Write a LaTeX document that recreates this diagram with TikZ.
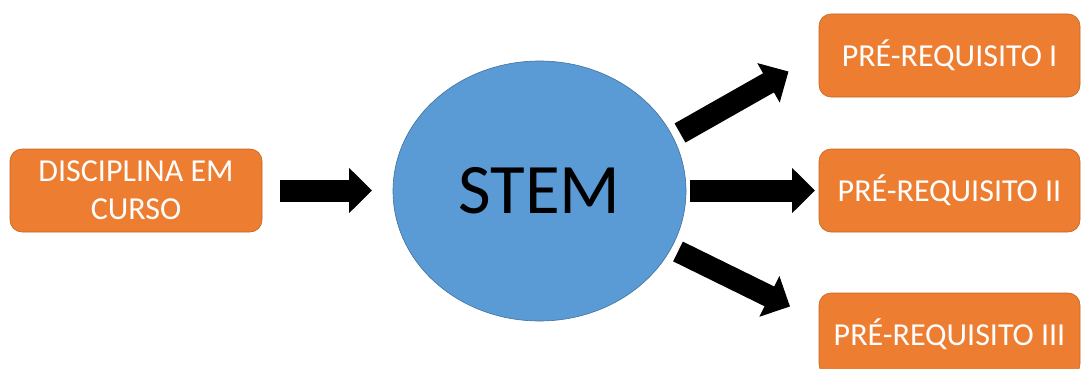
\documentclass[tikz,border=0pt]{standalone}
\usepackage{fontspec}
\setmainfont{Carlito}
\usetikzlibrary{shapes.geometric,arrows.meta}
\definecolor{boxfill}{HTML}{ED7D31}
\definecolor{boxline}{HTML}{C0651F}
\definecolor{stemfill}{HTML}{5B9BD5}
\definecolor{stemline}{HTML}{41719C}
\tikzset{
  course/.style={rectangle, rounded corners=12pt, fill=boxfill, draw=boxline,
    line width=0.6pt, minimum height=83pt, inner sep=0pt, text=white,
    font=\fontsize{32}{38}\selectfont, align=center},
  hub/.style={ellipse, fill=stemfill, draw=stemline, line width=0.6pt,
    minimum width=293pt, minimum height=260pt, inner sep=0pt,
    font=\fontsize{71}{82}\selectfont},
  blockarrow/.style={draw=black, line width=22pt,
    -{Triangle[length=23pt,width=44pt]}}
}
\begin{document}
\begin{tikzpicture}[x=1pt,y=1pt]
  \useasboundingbox (0,0) rectangle (1081,-369);
  % boxes and central ellipse
  \node[course, minimum width=252pt] (curso) at (136,-190.5) {DISCIPLINA EM\\CURSO};
  \node[hub] (stem) at (539.5,-191) {STEM};
  \node[course, minimum width=261pt] (pre1) at (949.5,-55.5) {PRÉ-REQUISITO I};
  \node[course, minimum width=261pt] (pre2) at (949.5,-190.5) {PRÉ-REQUISITO II};
  \node[course, minimum width=261pt] (pre3) at (949.5,-334.5) {PRÉ-REQUISITO III};
  % arrow end points
  \coordinate (a0s) at (280,-190.5);
  \coordinate (a0e) at (372,-190.5);
  \coordinate (a1s) at (680,-133);
  \coordinate (a1e) at (788.5,-71.5);
  \coordinate (a2s) at (690,-190.5);
  \coordinate (a2e) at (815,-190.5);
  \coordinate (a3s) at (678,-251.5);
  \coordinate (a3e) at (790,-306.5);
  % block arrows
  \draw[blockarrow] (a0s) -- (a0e);
  \draw[blockarrow] (a1s) -- (a1e);
  \draw[blockarrow] (a2s) -- (a2e);
  \draw[blockarrow] (a3s) -- (a3e);
\end{tikzpicture}
\end{document}
